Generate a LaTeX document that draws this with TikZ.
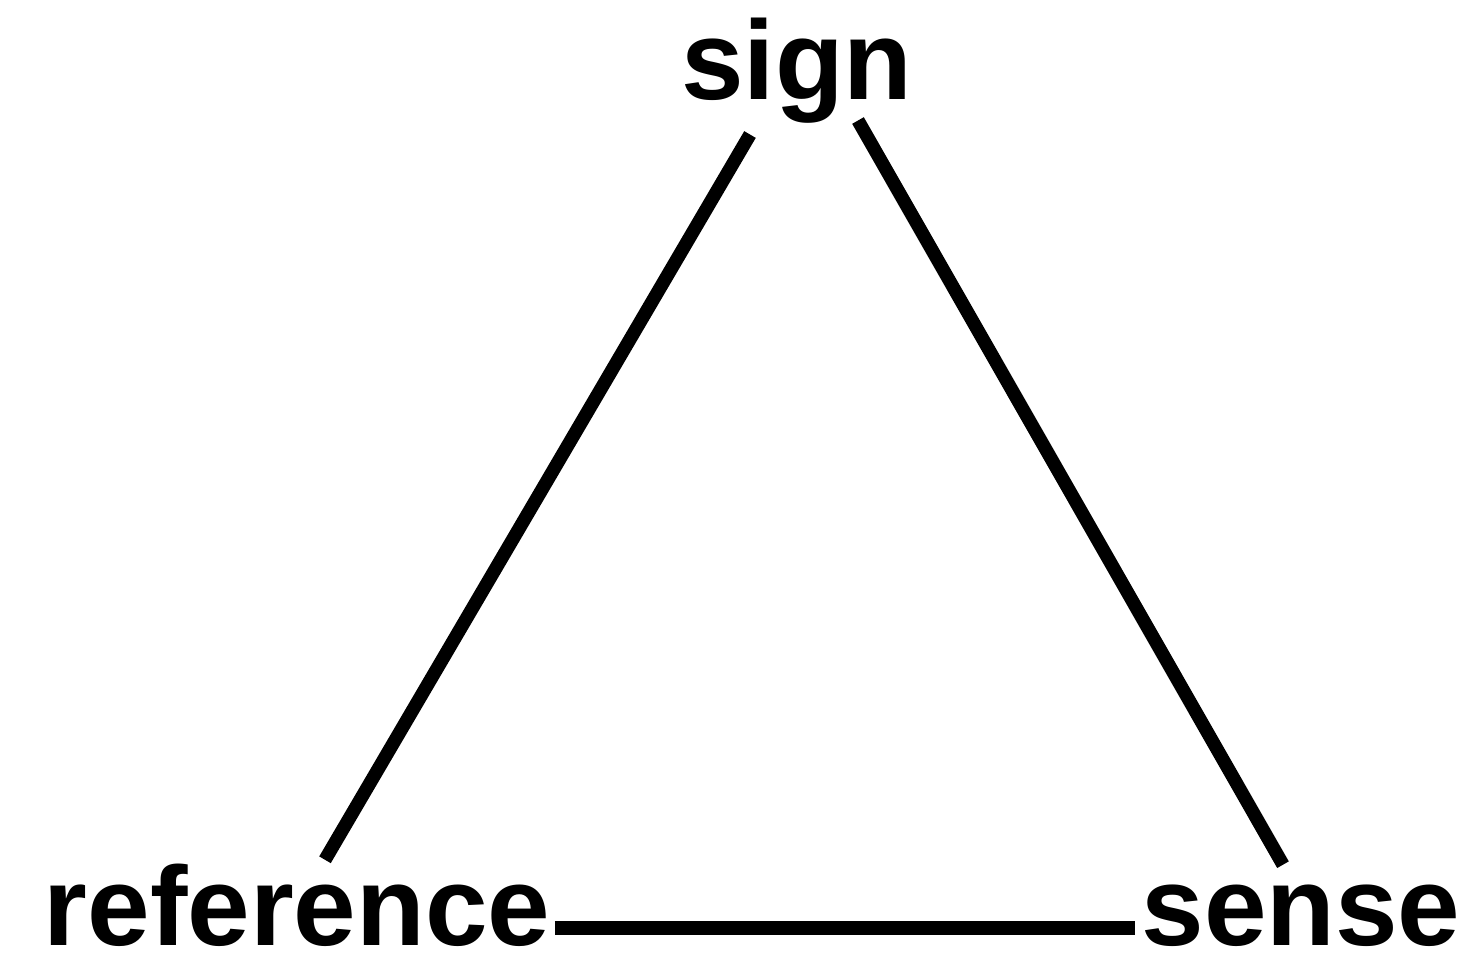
\documentclass[tikz,border=0pt]{standalone}
\usepackage{fontspec}
\setmainfont{Liberation Sans}
\usetikzlibrary{positioning}

\begin{document}
\begin{tikzpicture}[
  term/.style={inner sep=0pt, anchor=base, font=\fontsize{32}{36}\selectfont\bfseries},
  link/.style={line width=3.8pt, color=black}
]
\useasboundingbox (0,0) rectangle (14.74,9.68);

\node[term] (sign)  at (7.97,8.68) {sign};
\node[term] (ref)   at (2.97,0.22) {reference};
\node[term] (sense) at (13.01,0.22) {sense};

\draw[link] ([xshift=-4.7mm,yshift=-1mm]sign.south) -- ([xshift=2.8mm,yshift=0.4mm]ref.north);
\draw[link] ([xshift=6.1mm,yshift=0.4mm]sign.south) -- ([xshift=-1.8mm,yshift=2mm]sense.north);
\draw[link] ([xshift=0.4mm,yshift=1.8mm]ref.base east) -- ([xshift=-0.6mm,yshift=1.8mm]sense.base west);

\end{tikzpicture}
\end{document}
